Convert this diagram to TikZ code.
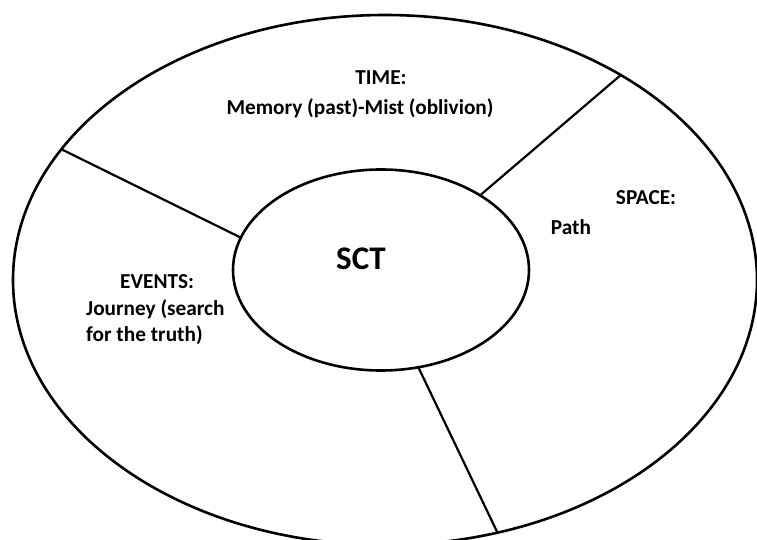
\documentclass[tikz,border=0pt]{standalone}
\usepackage{fontspec}
\setmainfont{Carlito}
\usetikzlibrary{shapes.geometric}
\begin{document}
\begin{tikzpicture}[x=1pt,y=1pt,
  ring/.style={draw=black,line width=2.6pt,ellipse,inner sep=0pt,outer sep=0pt},
  spoke/.style={draw=black,line width=2.2pt},
  lbl/.style={font=\fontsize{21.3}{26.5}\selectfont\bfseries,inner sep=0pt,text=black},
  big/.style={font=\fontsize{33}{36}\selectfont\bfseries,inner sep=0pt,text=black}]
\useasboundingbox (0,0) rectangle (757,539);
\node[ring,minimum width=744pt,minimum height=530pt] (outer) at (385,259) {};
\node[ring,minimum width=296pt,minimum height=201pt] (inner) at (381,269) {};
\draw[spoke] (inner.37) -- (outer.41);
\draw[spoke] (inner.167) -- (outer.158.5);
\draw[spoke] (inner.291) -- (outer.294);
\node[big] (sct) at (361,280) {SCT};
\node[lbl] (time) at (381,461) {TIME:};
\node[lbl] (mem) at (360,431) {Memory (past)-Mist (oblivion)};
\node[lbl] (space) at (646,341) {SPACE:};
\node[lbl] (path) at (571,312) {Path};
\node[lbl,align=left,anchor=west] (events) at (86,229) {\hspace*{34pt}EVENTS:\\Journey (search\\for the truth)};
\end{tikzpicture}
\end{document}
